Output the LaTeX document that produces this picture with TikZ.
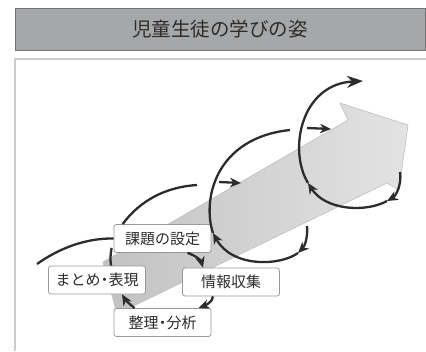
\documentclass[tikz,border=0pt]{standalone}
\usepackage{fontspec}
\newfontfamily\jp{Noto Sans CJK JP}
\usepackage{tikz}
\usetikzlibrary{arrows.meta}
\usepackage{xcolor}
\definecolor{ink}{HTML}{2C2C2C}
\definecolor{barfill}{HTML}{A6A7A9}
\newcommand{\nakaguro}{\hspace{-3.5pt}・\hspace{-3.5pt}}
\begin{document}
\begin{tikzpicture}[x=1pt,y=-1pt,
box/.style={draw=black!40,fill=white,rounded corners=2.5pt,line width=.8pt,minimum width=97pt,minimum height=28pt,inner sep=0pt,text=ink,font=\jp\fontsize{15}{15}\selectfont},
curl/.style={draw=ink,line width=2.3pt},
cyc/.style={curl,-{Stealth[length=11pt,width=9.5pt]}},
lead/.style={curl,-{Stealth[length=16pt,width=12pt]}}]
\useasboundingbox (0,0) rectangle (426,351);
\node[draw=black!55,fill=barfill,minimum width=410pt,minimum height=42pt,inner sep=0pt,text=ink,font=\jp\fontsize{19.5}{19.5}\selectfont] (title) at (220,29) {児童生徒の学びの姿};
\draw[black!20,line width=1.2pt] (426,59)--(15,59)--(15,351);
\draw[black!25,line width=.6pt,left color=black!24,right color=black!11] (103,262)--(348,120)--(340,103)--(408,125)--(399,190)--(387,183)--(117,314)--cycle;
\node[box] (kadai) at (162.5,238.5) {課題の設定};
\node[box] (joho) at (231,282) {情報収集};
\node[box] (seiri) at (162.5,322.5) {整理\nakaguro 分析};
\node[box] (matome) at (97,280) {まとめ\nakaguro 表現};
\coordinate (tail) at (37,264);
\coordinate (b1) at (197,185);
\coordinate (s1a) at (219,182);
\coordinate (s1b) at (241,183);
\coordinate (r2) at (307,226);
\coordinate (q2) at (298,253);
\coordinate (p2) at (213,233);
\coordinate (t2) at (290,130);
\coordinate (s2a) at (307,128);
\coordinate (s2b) at (331,129);
\coordinate (r3) at (400,172);
\coordinate (q3) at (387,201);
\coordinate (p3) at (308,183);
\coordinate (goal) at (363,81);
\draw[curl] (tail) .. controls (58,249) and (85,238) .. (kadai.west);
\draw[curl] ([xshift=14pt]matome.north) .. controls +(-1,-7) and +(-1,6) .. ([xshift=-2pt,yshift=5pt]kadai.south west);
\draw[cyc] ([xshift=25pt]kadai.south) .. controls +(9,3) and +(-2,-7) .. ([xshift=-28pt]joho.north);
\draw[cyc] ([xshift=-18pt]joho.south) .. controls +(0,6) and +(5,-2) .. ([xshift=36pt]seiri.north);
\draw[cyc] ([xshift=-28pt]seiri.north) .. controls +(-5,-4) and +(3,5) .. ([xshift=25pt]matome.south);
\draw[curl] ([xshift=9pt]kadai.north west) .. controls +(17,-23) and +(-32,2) .. (b1);
\draw[cyc] (s1a)--(s1b);
\draw[cyc] (r2) .. controls +(1,10) and +(7,-7) .. (q2);
\draw[cyc] (q2) .. controls +(-18,13) and +(19,35) .. (p2);
\draw[curl] (p2) .. controls +(-11,-33) and +(-75,8) .. (t2);
\draw[cyc] (s2a)--(s2b);
\draw[cyc] (r3) .. controls +(2,12) and +(9,-5) .. (q3);
\draw[cyc] (q3) .. controls +(-22,12) and +(17,27) .. (p3);
\draw[lead] (p3) .. controls +(-20,-33) and +(-62,3) .. (goal);
\end{tikzpicture}
\end{document}
